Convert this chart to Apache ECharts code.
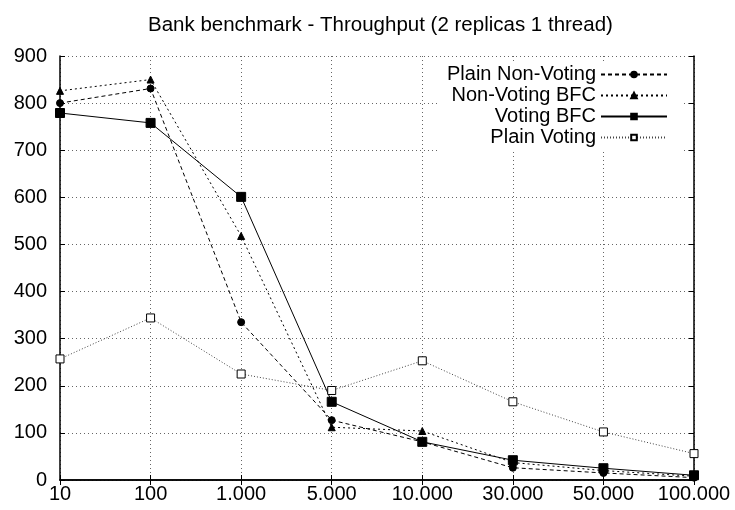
<!DOCTYPE html>
<html>
<head>
<meta charset="utf-8">
<script src="https://cdn.jsdelivr.net/npm/echarts@6/dist/echarts.min.js"></script>
<style>
  html, body { margin: 0; padding: 0; background: #fff; }
  #chart { width: 735px; height: 510px; }
</style>
</head>
<body>
<div id="chart"></div>
<script>
const categories = ['10', '100', '1.000', '5.000', '10.000', '30.000', '50.000', '100.000']
const plainNonVoting = [800, 831, 335, 127, 81, 26, 15, 5]
const nonVotingBfc = [826, 850, 518, 112, 104, 37, 20, 8]
const votingBfc = [779, 758, 601, 166, 81, 42, 25, 10]
const plainVoting = [257, 344, 225, 190, 253, 166, 102, 56]
const yTicks = { min: 0, max: 900, step: 100 }

const font = 'Liberation Sans, Arial, sans-serif'
const grid = { left: 60, right: 41, top: 56, bottom: 30 }

// dotted grid lines like gnuplot
const gridLine = { show: true, lineStyle: { color: '#666', type: [1, 3], width: 1 } }

function lineSeries(name, data, symbol, size, dash, color, fill) {
  return {
    name: name,
    type: 'line',
    data: data,
    symbol: symbol,
    symbolSize: size,
    showSymbol: true,
    lineStyle: { color: color, width: 1, type: dash },
    itemStyle: { color: fill, borderColor: '#000', borderWidth: 1 },
    emphasis: { disabled: true },
    animation: false,
    z: 3
  }
}

const chart = echarts.init(document.getElementById('chart'))

chart.setOption({
  backgroundColor: '#fff',
  animation: false,
  title: {
    text: 'Bank benchmark - Throughput (2 replicas 1 thread)',
    left: 143,
    top: 10,
    textStyle: { fontFamily: font, fontSize: 20.5, fontWeight: 'normal', color: '#000' }
  },
  legend: {
    orient: 'vertical',
    right: 53,
    top: 62,
    align: 'right',
    itemWidth: 66,
    itemHeight: 7,
    itemGap: 0,
    padding: [2, 14, 4, 8],
    backgroundColor: '#fff',
    textStyle: { fontFamily: font, fontSize: 20, color: '#000', lineHeight: 21 },
    data: ['Plain Non-Voting', 'Non-Voting BFC', 'Voting BFC', 'Plain Voting'],
    z: 10
  },
  grid: grid,
  xAxis: [{
    type: 'category',
    data: categories,
    boundaryGap: false,
    axisLine: { lineStyle: { color: '#000', width: 1.5 } },
    axisTick: { inside: true, length: 5, interval: 0, lineStyle: { color: '#000' } },
    axisLabel: { fontFamily: font, fontSize: 20, color: '#000', margin: 4, interval: 0 },
    splitLine: Object.assign({ interval: 0 }, gridLine)
  }, {
    type: 'category',
    data: categories,
    boundaryGap: false,
    position: 'top',
    axisLine: { lineStyle: { color: '#000', width: 1.5 } },
    axisTick: { inside: true, length: 5, interval: 0, lineStyle: { color: '#000' } },
    axisLabel: { show: false },
    splitLine: { show: false }
  }],
  yAxis: [{
    type: 'value',
    min: yTicks.min,
    max: yTicks.max,
    interval: yTicks.step,
    axisLine: { show: true, lineStyle: { color: '#000', width: 1.5 } },
    axisTick: { show: true, inside: true, length: 5, lineStyle: { color: '#000' } },
    axisLabel: { fontFamily: font, fontSize: 20, color: '#000', margin: 13 },
    splitLine: gridLine
  }, {
    type: 'value',
    min: yTicks.min,
    max: yTicks.max,
    interval: yTicks.step,
    position: 'right',
    axisLine: { show: true, lineStyle: { color: '#000', width: 1.5 } },
    axisTick: { show: true, inside: true, length: 5, lineStyle: { color: '#000' } },
    axisLabel: { show: false },
    splitLine: { show: false }
  }],
  series: [
    lineSeries('Plain Non-Voting', plainNonVoting, 'circle', 7, [4, 3], '#000', '#000'),
    lineSeries('Non-Voting BFC', nonVotingBfc, 'triangle', 7, [2, 3], '#000', '#000'),
    lineSeries('Voting BFC', votingBfc, 'rect', 9, 'solid', '#000', '#000'),
    lineSeries('Plain Voting', plainVoting, 'rect', 8, [1, 2], '#444', '#fff')
  ]
})
</script>
</body>
</html>
